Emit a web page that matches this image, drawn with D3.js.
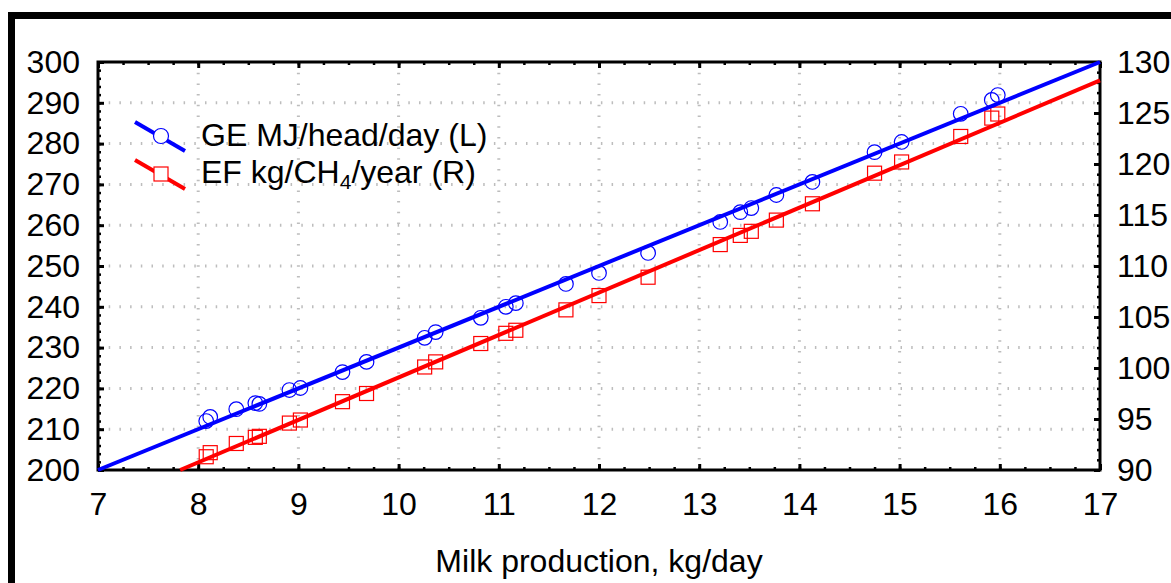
<!DOCTYPE html>
<html>
<head>
<meta charset="utf-8">
<script src="https://cdn.jsdelivr.net/npm/d3@7"></script>
<style>
  body { margin: 0; background: #fff; }
  svg text { font-family: Arial, "Liberation Sans", sans-serif; fill: #000; }
</style>
</head>
<body>
<svg id="chart" width="1171" height="583"></svg>
<script>
// milk production, kg/day
var milk = [8.08, 8.12, 8.38, 8.57, 8.61, 8.91, 9.02, 9.44, 9.68, 10.26, 10.37, 10.82, 11.07, 11.17,
            11.67, 12.0, 12.49, 13.21, 13.41, 13.52, 13.77, 14.13, 14.75, 15.02, 15.61, 15.92, 15.98];
// GE MJ/head/day (left axis)
var ge = [212.0, 213.0, 214.9, 216.4, 216.2, 219.6, 220.1, 224.0, 226.5, 232.4, 233.8, 237.3, 240.0, 240.9,
          245.6, 248.3, 253.2, 260.8, 263.2, 264.2, 267.4, 270.6, 277.9, 280.4, 287.3, 290.7, 291.9];
// EF kg CH4/year (right axis)
var ef = [91.3, 91.7, 92.6, 93.2, 93.3, 94.6, 94.9, 96.7, 97.5, 100.1, 100.6, 102.4, 103.4, 103.7,
          105.7, 107.1, 108.9, 112.1, 113.0, 113.4, 114.5, 116.1, 119.1, 120.2, 122.7, 124.5, 124.9];
// fitted lines, end points
var geFit = [[7, 200], [17, 300]];
var efFit = [[7.82, 90], [17, 128.2]];

var xTicks = [7, 8, 9, 10, 11, 12, 13, 14, 15, 16, 17];
var leftTicks = [200, 210, 220, 230, 240, 250, 260, 270, 280, 290, 300];
var rightTicks = [90, 95, 100, 105, 110, 115, 120, 125, 130];

var svg = d3.select('#chart');
var L = 98, R = 1100, T = 62, B = 470;
var fs = '32px';

// outer frame
svg.append('rect').attr('x', 11.5).attr('y', 15.5).attr('width', 1200).attr('height', 620)
   .attr('fill', 'none').attr('stroke', '#000').attr('stroke-width', 7);

var x = d3.scaleLinear().domain([7, 17]).range([L, R]);
var yL = d3.scaleLinear().domain([200, 300]).range([B, T]);
var yR = d3.scaleLinear().domain([90, 130]).range([B, T]);

// grid
var grid = svg.append('g').attr('stroke', '#bdbdbd').attr('stroke-width', 3).attr('stroke-dasharray', '1.5,9.2');
grid.selectAll('.vg').data(xTicks.slice(1, -1)).enter().append('line')
    .attr('x1', function(d) { return x(d); }).attr('x2', function(d) { return x(d); })
    .attr('y1', T).attr('y2', B);
grid.selectAll('.hg').data(leftTicks.slice(1, -1)).enter().append('line')
    .attr('y1', function(d) { return yL(d); }).attr('y2', function(d) { return yL(d); })
    .attr('x1', L).attr('x2', R);

// axes
function styleAxis(g, w) {
  g.select('.domain').remove();
  g.selectAll('.tick line').attr('stroke', '#000').attr('stroke-width', w);
  g.selectAll('.tick text').style('font-size', fs);
}
var xMinor = d3.range(7, 17.001, 0.25);
var lMinor = d3.range(200, 300.001, 2);
var rMinor = d3.range(90, 130.001, 1);

svg.append('g').attr('transform', 'translate(0,' + B + ')')
   .call(d3.axisBottom(x).tickValues(xMinor).tickSize(-3).tickFormat(''))
   .call(styleAxis, 2.5);
svg.append('g').attr('transform', 'translate(0,' + T + ')')
   .call(d3.axisTop(x).tickValues(xMinor).tickSize(-3).tickFormat(''))
   .call(styleAxis, 2.5);
svg.append('g').attr('transform', 'translate(' + L + ',0)')
   .call(d3.axisLeft(yL).tickValues(lMinor).tickSize(-3).tickFormat(''))
   .call(styleAxis, 2.5);
svg.append('g').attr('transform', 'translate(' + R + ',0)')
   .call(d3.axisRight(yR).tickValues(rMinor).tickSize(-3).tickFormat(''))
   .call(styleAxis, 2.5);

svg.append('g').attr('transform', 'translate(0,' + B + ')')
   .call(d3.axisBottom(x).tickValues(xTicks).tickSize(-6).tickPadding(22).tickFormat(d3.format('d')))
   .call(styleAxis, 3);
svg.append('g').attr('transform', 'translate(0,' + T + ')')
   .call(d3.axisTop(x).tickValues(xTicks).tickSize(-6).tickFormat(''))
   .call(styleAxis, 3);
svg.append('g').attr('transform', 'translate(' + L + ',0)')
   .call(d3.axisLeft(yL).tickValues(leftTicks).tickSize(-6).tickPadding(18).tickFormat(d3.format('d')))
   .call(styleAxis, 3);
svg.append('g').attr('transform', 'translate(' + R + ',0)')
   .call(d3.axisRight(yR).tickValues(rightTicks).tickSize(-6).tickPadding(17).tickFormat(d3.format('d')))
   .call(styleAxis, 3);

// plot box
svg.append('rect').attr('x', L).attr('y', T).attr('width', R - L).attr('height', B - T)
   .attr('fill', 'none').attr('stroke', '#000').attr('stroke-width', 3);

// fitted lines
var geLine = d3.line().x(function(d) { return x(d[0]); }).y(function(d) { return yL(d[1]); });
var efLine = d3.line().x(function(d) { return x(d[0]); }).y(function(d) { return yR(d[1]); });

// markers
svg.append('g').selectAll('circle').data(milk).enter().append('circle')
   .attr('cx', function(d) { return x(d); })
   .attr('cy', function(d, i) { return yL(ge[i]); })
   .attr('r', 7.3).attr('fill', 'none').attr('stroke', '#0000ff').attr('stroke-width', 1.2);
svg.append('g').selectAll('rect').data(milk).enter().append('rect')
   .attr('x', function(d) { return x(d) - 7; })
   .attr('y', function(d, i) { return yR(ef[i]) - 7; })
   .attr('width', 14).attr('height', 14)
   .attr('fill', 'none').attr('stroke', '#ff0000').attr('stroke-width', 1.2);

svg.append('path').datum(geFit).attr('d', geLine).attr('fill', 'none').attr('stroke', '#0000ff').attr('stroke-width', 4);
svg.append('path').datum(efFit).attr('d', efLine).attr('fill', 'none').attr('stroke', '#ff0000').attr('stroke-width', 4);

// legend
var lg = svg.append('g');
lg.append('line').attr('x1', 135).attr('y1', 122).attr('x2', 185).attr('y2', 151)
  .attr('stroke', '#0000ff').attr('stroke-width', 4);
lg.append('circle').attr('cx', 161).attr('cy', 136).attr('r', 7.5)
  .attr('fill', '#fff').attr('stroke', '#0000ff').attr('stroke-width', 1.2);
lg.append('line').attr('x1', 135).attr('y1', 160).attr('x2', 185).attr('y2', 189)
  .attr('stroke', '#ff0000').attr('stroke-width', 4);
lg.append('rect').attr('x', 154).attr('y', 167).attr('width', 14).attr('height', 14)
  .attr('fill', '#fff').attr('stroke', '#ff0000').attr('stroke-width', 1.2);
lg.append('text').attr('x', 201).attr('y', 146).style('font-size', fs).text('GE MJ/head/day (L)');
var t2 = lg.append('text').attr('x', 201).attr('y', 183).style('font-size', fs);
t2.append('tspan').text('EF kg/CH');
t2.append('tspan').attr('dy', 6).style('font-size', '21px').text('4');
t2.append('tspan').attr('dy', -6).text('/year (R)');

// axis title
svg.append('text').attr('x', 599).attr('y', 572).attr('text-anchor', 'middle')
   .style('font-size', fs).text('Milk production, kg/day');
</script>
</body>
</html>
